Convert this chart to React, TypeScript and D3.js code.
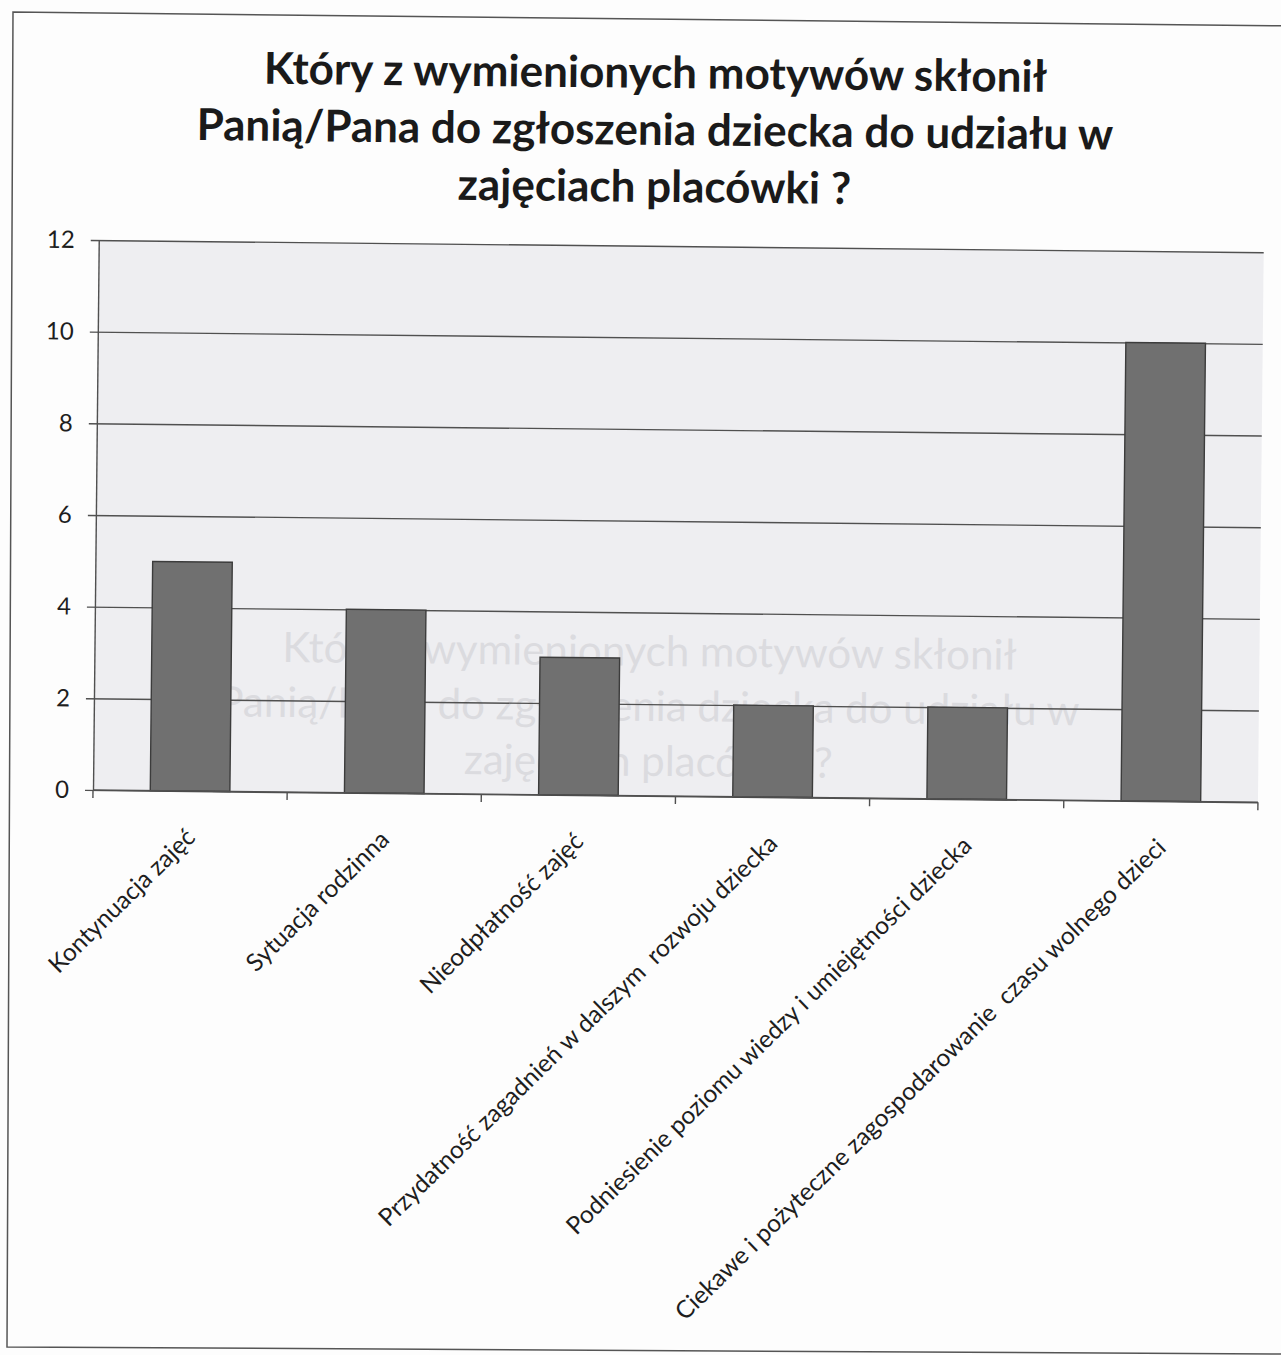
import { useEffect, useRef } from 'react'
import * as d3 from 'd3'

const titleLines = [
  'Który z wymienionych motywów skłonił',
  'Panią/Pana do zgłoszenia dziecka do udziału w',
  'zajęciach placówki ?',
]

const categories = [
  'Kontynuacja zajęć',
  'Sytuacja rodzinna',
  'Nieodpłatność zajęć',
  'Przydatność zagadnień w dalszym  rozwoju dziecka',
  'Podniesienie poziomu wiedzy i umiejętności dziecka',
  'Ciekawe i pożyteczne zagospodarowanie  czasu wolnego dzieci',
]

const values = [5, 4, 3, 2, 2, 10]

const yTicks = [0, 2, 4, 6, 8, 10, 12]

const W = 1281
const H = 1355
const FONT = 'Lato, "Open Sans", sans-serif'

export default function App() {
  const svgRef = useRef<SVGSVGElement>(null)

  useEffect(() => {
    const svgEl = svgRef.current
    if (!svgEl) return

    const margin = { top: 240, left: 93 }
    const innerW = 1165
    const innerH = 550

    const svg = d3.select(svgEl)
    svg.selectAll('*').remove()

    svg.append('rect').attr('width', W).attr('height', H).attr('fill', '#fdfdfd')

    // page frame (scanned, so not quite square)
    svg.append('path')
      .attr('d', 'M1295,26 L13,12 L7,1347 L1281,1354')
      .attr('fill', 'none')
      .style('stroke', '#555')
      .style('stroke-width', '1.5')

    // the scan is tilted a little
    const root = svg.append('g').attr('transform', `rotate(0.6, ${margin.left}, ${margin.top + innerH})`)

    // title
    root.append('text')
      .attr('text-anchor', 'middle')
      .style('font-family', FONT)
      .style('font-weight', '700')
      .style('font-size', '44px')
      .style('fill', '#1a1a1a')
      .selectAll('tspan')
      .data(titleLines)
      .join('tspan')
      .attr('x', 648)
      .attr('y', (_, i) => 82 + i * 57)
      .text(d => d)

    const g = root.append('g').attr('transform', `translate(${margin.left},${margin.top})`)

    const x = d3.scaleBand<string>().domain(categories).range([0, innerW]).padding(0)
    const y = d3.scaleLinear().domain([0, 12]).range([innerH, 0])
    const barW = x.bandwidth() * 0.41

    // plot background
    g.append('rect')
      .attr('width', innerW)
      .attr('height', innerH)
      .attr('fill', '#eeeef1')

    // faint show-through from the other side of the page
    g.append('text')
      .attr('text-anchor', 'middle')
      .style('font-family', FONT)
      .style('font-size', '42px')
      .style('fill', '#dbdbdf')
      .selectAll('tspan')
      .data(titleLines)
      .join('tspan')
      .attr('x', 555)
      .attr('y', (_, i) => 420 + i * 55)
      .text(d => d)

    // gridlines
    g.append('g')
      .call(
        d3.axisLeft(y)
          .tickValues(yTicks)
          .tickSize(-innerW - 8)
          .tickFormat(() => ''),
      )
      .attr('transform', 'translate(-8,0)')
      .call(s => s.select('.domain').remove())
      .selectAll('.tick line')
      .style('stroke', '#505050')
      .style('stroke-width', '1.4')

    // bars
    g.selectAll('rect.bar')
      .data(values)
      .join('rect')
      .attr('class', 'bar')
      .attr('x', (_, i) => x(categories[i])! + (x.bandwidth() - barW) / 2)
      .attr('y', d => y(d))
      .attr('width', barW)
      .attr('height', d => innerH - y(d))
      .style('fill', '#707070')
      .style('stroke', '#3c3c3c')
      .style('stroke-width', '1.4')

    // y axis
    const yAxisG = g.append('g')
    yAxisG.call(d3.axisLeft(y).tickValues(yTicks).tickSize(0).tickPadding(24))
    yAxisG.select('.domain').style('stroke', '#505050').style('stroke-width', '1.4')
    yAxisG.selectAll('text')
      .style('fill', '#1e1e1e')
      .style('font-size', '24px')
      .style('font-family', FONT)

    // x axis
    const xAxisG = g.append('g').attr('transform', `translate(0,${innerH})`)
    xAxisG.append('line')
      .attr('x1', 0).attr('x2', innerW)
      .style('stroke', '#505050')
      .style('stroke-width', '1.4')
    xAxisG.selectAll('line.tick')
      .data(d3.range(categories.length + 1))
      .join('line')
      .attr('class', 'tick')
      .attr('x1', i => (i < categories.length ? x(categories[i])! : innerW))
      .attr('x2', i => (i < categories.length ? x(categories[i])! : innerW))
      .attr('y1', 0)
      .attr('y2', 8)
      .style('stroke', '#505050')
      .style('stroke-width', '1.4')

    xAxisG.selectAll('text.label')
      .data(categories)
      .join('text')
      .attr('class', 'label')
      .attr('text-anchor', 'end')
      .attr('transform', d => `translate(${x(d)! + x.bandwidth() / 2 + 7},${48}) rotate(-45)`)
      .style('fill', '#1e1e1e')
      .style('font-size', '24.5px')
      .style('font-family', FONT)
      .style('white-space', 'pre')
      .text(d => d)
  }, [])

  return (
    <div style={{ position: 'absolute', left: 0, top: 0 }}>
      <svg ref={svgRef} width={W} height={H} style={{ display: 'block' }} />
    </div>
  )
}
